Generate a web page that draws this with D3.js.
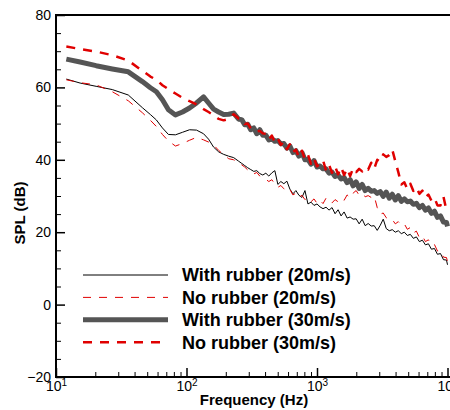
<!DOCTYPE html>
<html>
<head>
<meta charset="utf-8">
<script src="https://cdn.jsdelivr.net/npm/d3@7"></script>
<style>
  body { margin: 0; background: #fff; }
  svg { display: block; font-family: "Liberation Sans", Arial, sans-serif; }
  .tick text { fill: #000; }
</style>
</head>
<body>
<div id="chart"></div>
<script>
///////////////////////////////////////////////////////////////////////////////
//// Data /////////////////////////////////////////////////////////////////////
///////////////////////////////////////////////////////////////////////////////
// Frequency (Hz), shared by all four spectra
const freq = [12, 15.3, 20.3, 27.0, 35.8, 45.9, 52.9, 58.8, 65.4, 72.7, 82.3, 93.2,
	105.5, 119.4, 135.1, 147.6, 161.3, 176.3, 192.6, 210.5, 229.9, 251.2,
	265.0, 279.4, 294.6, 310.7, 327.7, 345.6, 364.4, 384.3, 405.3, 427.4,
	450.7, 475.3, 501.2, 528.6, 557.4, 587.8, 619.9, 653.7, 689.4, 727.0,
	766.7, 808.5, 852.6, 899.2, 948.2, 1000, 1054.6, 1112.1, 1172.8, 1236.8,
	1304.3, 1375.5, 1450.5, 1529.7, 1613.2, 1701.2, 1794.0, 1891.9, 1995.3, 2104.1,
	2218.9, 2340.0, 2467.7, 2602.3, 2744.3, 2894.0, 3051.9, 3218.4, 3394.0, 3579.2,
	3774.5, 3981.1, 4198.3, 4427.3, 4668.9, 4923.6, 5192.3, 5475.6, 5774.3, 6089.4,
	6421.6, 6772.0, 7141.5, 7531.1, 7943.3, 8376.7, 8833.7, 9315.7, 9823.9, 10000];

// SPL (dB)
const withRubber20 = [62.3, 61.2, 60.3, 59.4, 57.9, 54.4, 52.5, 51.0, 48.8, 47.0, 46.9, 47.6,
	48.3, 48.2, 47.2, 45.7, 43.5, 42.2, 41.5, 41.0, 40.6, 39.6,
	39.0, 38.4, 37.8, 37.3, 36.8, 37.0, 36.2, 35.8, 36.3, 35.5,
	36.4, 37.0, 33.2, 34.0, 33.4, 34.1, 31.9, 30.6, 31.5, 30.2,
	29.6, 31.5, 27.8, 28.3, 27.4, 27.8, 27.0, 26.5, 26.9, 26.1,
	26.8, 25.1, 26.2, 24.5, 25.6, 23.9, 24.2, 23.6, 23.7, 22.3,
	23.6, 21.8, 22.4, 21.7, 21.8, 20.5, 21.9, 23.6, 21.0, 20.4,
	20.7, 20.0, 20.4, 19.6, 20.0, 19.1, 19.4, 18.3, 18.7, 17.4,
	17.8, 16.5, 16.8, 15.3, 15.5, 13.9, 14.1, 12.4, 12.3, 11.0];

const noRubber20 = [62.1, 61.3, 60.7, 58.8, 56.3, 53.0, 50.9, 49.2, 47.0, 45.2, 43.8, 44.5,
	45.4, 46.2, 45.5, 44.9, 44.1, 42.6, 41.4, 40.3, 40.0, 39.2,
	38.6, 38.0, 37.2, 36.8, 36.1, 36.5, 35.5, 35.0, 34.6, 34.0,
	34.5, 33.3, 32.4, 32.9, 32.0, 31.2, 31.8, 30.3, 30.8, 29.6,
	30.2, 29.0, 29.5, 28.4, 29.2, 28.0, 28.8, 27.9, 29.4, 28.3,
	28.1, 29.0, 28.4, 29.3, 28.8, 30.3, 29.5, 30.8, 31.5, 30.2,
	30.6, 29.8, 30.1, 29.6, 30.0, 26.8, 25.0, 25.3, 24.0, 23.4,
	23.5, 22.3, 22.9, 22.0, 22.3, 20.8, 21.3, 19.8, 20.3, 18.5,
	19.0, 17.4, 17.9, 16.4, 16.6, 14.8, 14.9, 13.1, 13.0, 11.9];

const withRubber30 = [67.8, 67.0, 66.0, 65.1, 64.3, 61.6, 59.9, 58.8, 56.6, 53.8, 52.4, 53.2,
	54.3, 55.7, 57.4, 55.7, 54.0, 53.2, 52.5, 52.6, 52.9, 51.2,
	51.1, 49.7, 49.8, 48.3, 48.8, 47.2, 48.3, 46.8, 46.8, 45.5,
	45.9, 45.1, 45.3, 44.4, 44.5, 43.2, 43.8, 42.0, 42.5, 41.0,
	42.0, 40.0, 40.1, 38.8, 39.8, 38.0, 38.3, 37.5, 37.5, 36.3,
	36.6, 35.4, 35.8, 34.7, 35.1, 33.7, 34.5, 32.8, 33.9, 32.1,
	33.2, 31.5, 32.1, 31.3, 31.5, 30.7, 31.2, 29.9, 31.1, 29.4,
	30.5, 28.9, 30.1, 28.5, 29.2, 28.4, 28.6, 27.7, 28.0, 26.8,
	27.4, 26.1, 26.7, 25.2, 25.8, 24.1, 24.5, 22.8, 22.7, 21.6];

const noRubber30 = [71.3, 70.6, 69.9, 68.9, 67.4, 64.6, 63.0, 62.1, 60.6, 59.5, 58.3, 57.1,
	56.2, 55.3, 54.0, 53.2, 52.3, 51.3, 50.9, 51.3, 52.6, 51.4,
	51.3, 49.9, 50.0, 48.7, 48.5, 47.8, 48.0, 47.3, 47.2, 45.6,
	46.7, 44.8, 45.9, 44.1, 45.0, 42.9, 44.3, 42.1, 42.8, 40.7,
	42.5, 40.1, 41.4, 38.9, 40.4, 38.2, 38.9, 39.9, 37.0, 38.6,
	36.4, 38.2, 36.0, 38.0, 35.8, 37.6, 35.5, 37.7, 36.6, 37.5,
	36.8, 37.9, 37.3, 39.2, 37.5, 40.0, 39.5, 41.5, 40.8, 41.3,
	42.8, 39.6, 36.6, 33.2, 33.8, 31.9, 33.4, 31.4, 32.4, 30.6,
	31.5, 29.6, 30.4, 28.7, 29.5, 27.4, 27.4, 29.8, 26.0, 25.5];

const seriesNames = ["With rubber (20m/s)", "No rubber (20m/s)", "With rubber (30m/s)", "No rubber (30m/s)"];
const xTicks = [10, 100, 1000, 10000];
const xTickExponents = ["1", "2", "3", "4"];
const yTicks = [-20, 0, 20, 40, 60, 80];

///////////////////////////////////////////////////////////////////////////////
//// Initial Set Up ///////////////////////////////////////////////////////////
///////////////////////////////////////////////////////////////////////////////
const margin = {top: 15, right: 2.5, bottom: 33, left: 56};
const width = 450 - margin.left - margin.right;
const height = 410 - margin.top - margin.bottom;

const svg = d3.select("#chart").append("svg")
	.attr("width", 450)
	.attr("height", 410);

const g = svg.append("g")
	.attr("transform", `translate(${margin.left}, ${margin.top})`);

// Scales
const x = d3.scaleLog().domain([10, 10000]).range([0, width]);
const y = d3.scaleLinear().domain([-20, 80]).range([height, 0]);

// Line look, same order as seriesNames
const styles = [
	{color: "#000", width: 1, dash: null},
	{color: "#e00000", width: 1, dash: "8,8"},
	{color: "#555", width: 5, dash: null},
	{color: "#e00000", width: 2.5, dash: "9,8"}
];
const series = [withRubber20, noRubber20, withRubber30, noRubber30];

///////////////////////////////////////////////////////////////////////////////
//// Axes /////////////////////////////////////////////////////////////////////
///////////////////////////////////////////////////////////////////////////////
// Minor ticks (inward)
g.append("g")
		.attr("class", "minor")
		.call(d3.axisLeft(y).tickValues(y.ticks(20).filter(d => d % 20 !== 0)).tickSize(-5).tickFormat(""));

g.append("g")
		.attr("class", "minor")
		.attr("transform", `translate(0, ${height})`)
		.call(d3.axisBottom(x).tickValues(x.ticks().filter(d => !xTicks.includes(d))).tickSize(-5).tickFormat(""));

// Major ticks
g.append("g")
		.attr("class", "y axis")
		.call(d3.axisLeft(y).tickValues(yTicks).tickSizeInner(-9).tickSizeOuter(0).tickPadding(5))
	.selectAll("text")
		.style("font-size", "14px");

const xAxis = g.append("g")
		.attr("class", "x axis")
		.attr("transform", `translate(0, ${height})`)
		.call(d3.axisBottom(x).tickValues(xTicks).tickSizeInner(-9).tickSizeOuter(0).tickPadding(4).tickFormat(""));

// 10^n labels with superscript
xAxis.selectAll(".tick text")
		.style("font-size", "14px")
		.each(function(d, i) {
			const t = d3.select(this);
			t.append("tspan").text("10");
			t.append("tspan")
				.attr("dy", "-0.45em")
				.style("font-size", "10px")
				.text(xTickExponents[i]);
		});

g.selectAll(".domain").remove();
g.selectAll(".minor line").attr("stroke-width", 1);
g.selectAll(".axis line").attr("stroke-width", 1.5);

// Frame (right side lies outside the picture)
const frame = [
	[[0, 0], [0, height]],
	[[0, height], [460, height]],
	[[0, 0], [460, 0]]
];
g.selectAll(".frame")
	.data(frame)
	.enter().append("line")
		.attr("class", "frame")
		.attr("x1", d => d[0][0])
		.attr("y1", d => d[0][1])
		.attr("x2", d => d[1][0])
		.attr("y2", d => d[1][1])
		.style("stroke", "#000")
		.style("stroke-width", 2)
		.style("stroke-linecap", "square");

// Axis titles
svg.append("text")
		.attr("transform", `translate(24.5, ${margin.top + height / 2 + 17}) rotate(-90)`)
		.style("text-anchor", "middle")
		.style("font-size", "15px")
		.style("font-weight", "bold")
		.text("SPL (dB)");

svg.append("text")
		.attr("x", 254)
		.attr("y", 405)
		.style("text-anchor", "middle")
		.style("font-size", "15px")
		.style("font-weight", "bold")
		.text("Frequency (Hz)");

///////////////////////////////////////////////////////////////////////////////
//// Spectra //////////////////////////////////////////////////////////////////
///////////////////////////////////////////////////////////////////////////////
const line = d3.line()
	.x((d, i) => x(freq[i]))
	.y(d => y(d));

g.selectAll(".spectrum")
	.data(series)
	.enter().append("path")
		.attr("class", "spectrum")
		.attr("d", line)
		.style("fill", "none")
		.style("stroke", (d, i) => styles[i].color)
		.style("stroke-width", (d, i) => styles[i].width)
		.style("stroke-dasharray", (d, i) => styles[i].dash)
		.style("stroke-linejoin", "round");

///////////////////////////////////////////////////////////////////////////////
//// Legend ///////////////////////////////////////////////////////////////////
///////////////////////////////////////////////////////////////////////////////
const legend = svg.append("g")
		.attr("transform", "translate(83, 275)");

const row = legend.selectAll(".row")
	.data(seriesNames)
	.enter().append("g")
		.attr("class", "row")
		.attr("transform", (d, i) => `translate(0, ${i * 22.4})`);

row.append("line")
		.attr("x1", 0)
		.attr("x2", 85)
		.style("stroke", (d, i) => styles[i].color)
		.style("stroke-width", (d, i) => styles[i].width)
		.style("stroke-dasharray", (d, i) => styles[i].dash);

row.append("text")
		.attr("x", 99)
		.attr("dy", "0.36em")
		.style("font-size", "18px")
		.style("font-weight", "bold")
		.text(d => d);
</script>
</body>
</html>
